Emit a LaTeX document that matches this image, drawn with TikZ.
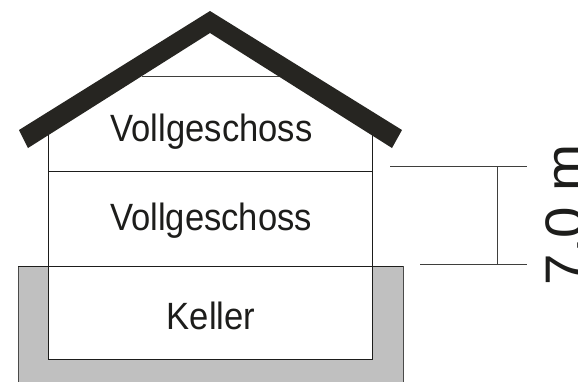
\documentclass[tikz,border=0pt]{standalone}
\usepackage{graphicx}
\usepackage{fontspec}
\setmainfont{Liberation Sans}
\definecolor{ink}{HTML}{1D1D1B}
\definecolor{roofc}{HTML}{262521}
\definecolor{soil}{HTML}{C0C0C0}
\tikzset{
  wall/.style={draw=ink,line width=0.9pt},
  thin line/.style={draw=ink!85,line width=0.8pt},
  label text/.style={inner sep=0pt,text=ink,font=\fontsize{38}{38}\selectfont,anchor=base},
}
\begin{document}
\begin{tikzpicture}[x=1pt,y=-1pt]
\useasboundingbox (0,0) rectangle (578,381);
\clip (0,0) rectangle (578,381);
\fill[white] (0,0) rectangle (578,381);
% basement
\draw[fill=soil,draw=ink!80,line width=0.9pt] (18,266) rectangle (403,390);
\draw[fill=white,draw=none] (48,266) rectangle (372,359);
% walls and floors
\coordinate (wl1) at (48,135);
\coordinate (wr1) at (372,135);
\coordinate (wl2) at (48,359);
\coordinate (wr2) at (372,359);
\draw[wall] (wl1) -- (wl2) -- (wr2) -- (wr1);
\draw[wall] (48,171) -- (372,171);
\draw[wall] (18,266) -- (403,266);
\draw[thin line] (142,76) -- (280,76);
% roof
\fill[roofc] (210,11) -- (402,130) -- (392,148) -- (210,33) -- (28,148) -- (19,130) -- cycle;
% dimension
\coordinate (d1a) at (390,166);
\coordinate (d1b) at (527,166);
\coordinate (d2a) at (420,264);
\coordinate (d2b) at (527,264);
\draw[thin line] (d1a) -- (d1b);
\draw[thin line] (d2a) -- (d2b);
\draw[thin line] (497,166) -- (497,264);
% labels
\node[label text] (v1) at (211.5,141) {\scalebox{0.91}[1]{Vollgeschoss}};
\node[label text] (v2) at (211,230) {\scalebox{0.91}[1]{Vollgeschoss}};
\node[label text] (k) at (211,329) {\scalebox{0.91}[1]{Keller}};
\node[inner sep=0pt,text=ink,font=\fontsize{56.5}{56.5}\selectfont,anchor=base west,rotate=90] (dim) at (583.5,285.5) {\scalebox{1}[0.96]{7,0 m}};
\end{tikzpicture}
\end{document}
